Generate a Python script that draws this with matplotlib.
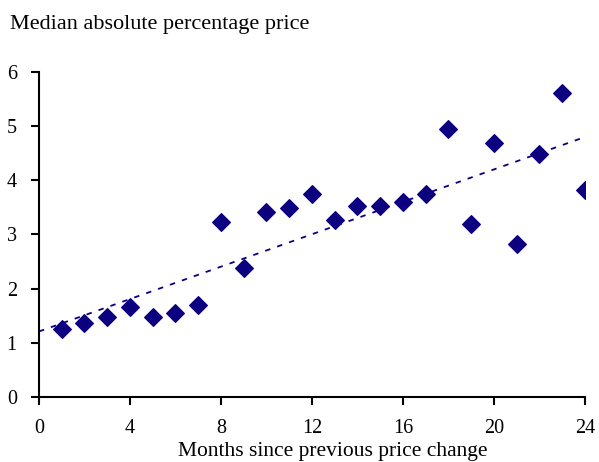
import numpy as np
from matplotlib import pyplot as plt

plt.rcParams['font.family'] = ['Liberation Serif', 'DejaVu Serif']

months = np.arange(1, 25)
median_change = [1.25, 1.36, 1.47, 1.66, 1.47, 1.55, 1.69, 3.23, 2.38, 3.41, 3.49, 3.75,
                 3.26, 3.52, 3.52, 3.60, 3.75, 4.94, 3.19, 4.68, 2.82, 4.49, 5.61, 3.82]

x_ticks = [0, 4, 8, 12, 16, 20, 24]
y_ticks = [0, 1, 2, 3, 4, 5, 6]

navy = '#0c0080'

fig = plt.figure(figsize=(5.99, 4.62), dpi=100)
ax = fig.add_axes([0.0651, 0.1407, 0.9115, 0.7035])

# linear trend line (Excel style)
coef = np.polyfit(months, median_change, 1)
xt = np.linspace(0, 24, 50)
ax.plot(xt, np.polyval(coef, xt), color=navy, linestyle=(0, (3, 4)), linewidth=1.3)

ax.scatter(months, median_change, marker='D', s=80, color=navy, zorder=3)

ax.set_xlim(0, 24)
ax.set_ylim(0, 6)
ax.set_xticks(x_ticks)
ax.set_yticks(y_ticks)
for s in ['top', 'right']:
    ax.spines[s].set_visible(False)
for s in ['left', 'bottom']:
    ax.spines[s].set_linewidth(1.5)
ax.tick_params(direction='out', length=6, width=1.5, labelsize=14.5)
ax.tick_params(axis='x', pad=10)
ax.tick_params(axis='y', pad=10)

fig.text(0.017, 0.948, 'Median absolute percentage price', fontsize=16, va='center', ha='left')
fig.text(0.555, 0.003, 'Months since previous price change', fontsize=15.5, va='bottom', ha='center')

fig.savefig('out.png', dpi=100)
